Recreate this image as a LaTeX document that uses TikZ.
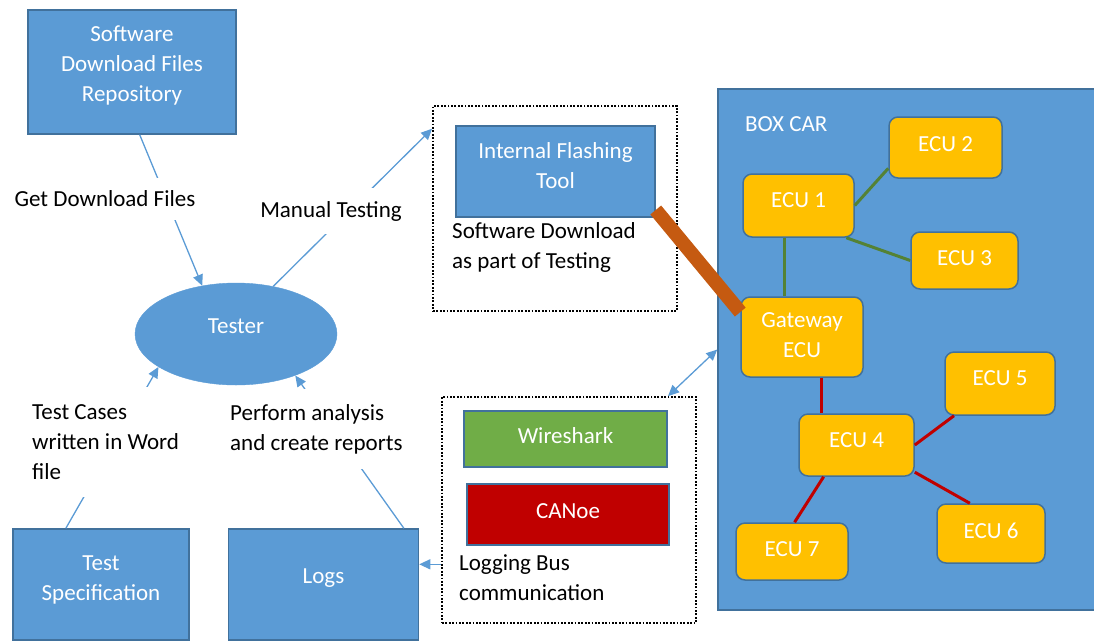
\documentclass[tikz,border=0pt]{standalone}
\usepackage{fontspec}
\setmainfont{Carlito}
\usetikzlibrary{shapes.geometric,arrows.meta}
\definecolor{boxblue}{HTML}{5B9BD5}
\definecolor{edgeblue}{HTML}{41719C}
\definecolor{ecuyellow}{HTML}{FFC000}
\definecolor{busgreen}{HTML}{548235}
\definecolor{busred}{HTML}{C00000}
\definecolor{wiregreen}{HTML}{70AD47}
\definecolor{flashorange}{HTML}{C55A11}
\begin{document}
\begin{tikzpicture}
[x=1pt,y=-1pt,%
  every node/.style={font=\fontsize{23}{30}\selectfont},%
  lift/.style={execute at end node={\rule[-#1]{0pt}{0pt}}},%
  lift/.default=6pt,%
  drop/.style={execute at begin node={\rule{0pt}{#1}}},%
  bluebox/.style={rectangle,fill=boxblue,draw=edgeblue,line width=1.5pt,text=white,align=center,inner sep=0pt,lift},%
  ecubox/.style={rectangle,rounded corners=9pt,fill=ecuyellow,draw=edgeblue,line width=1.5pt,text=white,align=center,inner sep=0pt,lift=4pt},%
  dotbox/.style={rectangle,draw,line width=1.8pt,dash pattern=on 1.8pt off 1.6pt,inner sep=0pt},%
  flow/.style={draw=boxblue,line width=1.3pt,-{Triangle[length=11pt,width=10pt]}},%
  note/.style={fill=white,align=left,inner xsep=0pt},%
  greenbus/.style={draw=busgreen,line width=3pt},%
  redbus/.style={draw=busred,line width=3pt}]
\useasboundingbox (0,0) rectangle (1094,641);
\node[bluebox,minimum width=208pt,minimum height=124pt,lift=16pt] (repo) at (132,72) {Software\\Download Files\\Repository};
\node[ellipse,fill=boxblue,draw=boxblue,text=white,minimum width=202pt,minimum height=102pt,inner sep=0pt,lift=16pt] (tester) at (236,334) {Tester};
\node[bluebox,minimum width=176pt,minimum height=111pt,lift=12pt] (tspec) at (101,584.5) {Test\\Specification};
\node[bluebox,minimum width=190pt,minimum height=111pt,lift=16pt] (logs) at (323.5,584.5) {Logs};
\node[dotbox,minimum width=244pt,minimum height=205pt] (fbox) at (555,208.5) {};
\node[bluebox,minimum width=199pt,minimum height=91pt,lift=12pt] (flash) at (555.5,171.5) {Internal Flashing\\Tool};
\node[anchor=west,align=left,inner sep=0pt] (fnote) at (452,247) {Software Download\\as part of Testing};
\node[dotbox,minimum width=254pt,minimum height=226pt] (lbox) at (569,510) {};
\node[bluebox,fill=wiregreen,minimum width=203pt,minimum height=56pt,lift=2pt] (wire) at (565.5,439) {Wireshark};
\node[bluebox,fill=busred,minimum width=202pt,minimum height=61pt,lift=4pt] (canoe) at (568,514.5) {CANoe};
\node[anchor=west,align=left,inner sep=0pt] (lnote) at (459,577.5) {Logging Bus\\communication};
\node[bluebox,minimum width=378pt,minimum height=521pt] (boxcar) at (907,349.5) {};
\node[anchor=west,text=white,inner sep=0pt] (carlabel) at (745,124) {BOX CAR};
\node[ecubox,minimum width=111pt,minimum height=63pt,lift=10pt] (ecu1) at (798.5,205.5) {ECU 1};
\node[ecubox,minimum width=113pt,minimum height=61pt,lift=7pt] (ecu2) at (945.5,147.5) {ECU 2};
\node[ecubox,minimum width=107pt,minimum height=57pt,lift=3pt] (ecu3) at (964.5,260.5) {ECU 3};
\node[ecubox,minimum width=122pt,minimum height=80pt,lift=0pt,drop=24pt] (gw) at (802,337) {Gateway\\ECU};
\node[ecubox,minimum width=115pt,minimum height=62pt,lift=9pt] (ecu4) at (856.5,445) {ECU 4};
\node[ecubox,minimum width=110pt,minimum height=63pt,lift=11pt] (ecu5) at (1000,383.5) {ECU 5};
\node[ecubox,minimum width=108pt,minimum height=59pt,lift=5pt] (ecu6) at (991,533.5) {ECU 6};
\node[ecubox,minimum width=112pt,minimum height=57pt,lift=2pt] (ecu7) at (792,551.5) {ECU 7};
\draw[flow] (repo.-83) -- (tester.125);
\node[note,inner ysep=13pt] (getlbl) at (105,199) {Get Download Files};
\draw[flow] (tester.52) -- (fbox.147);
\node[note,inner ysep=13pt] (manlbl) at (331,211) {Manual Testing};
\draw[flow] (tspec.122) -- (tester.203);
\node[note,anchor=west,inner ysep=17pt] (caselbl) at (32,442) {Test Cases\\written in Word\\file};
\draw[flow] (logs.35) -- (tester.-35);
\node[note,anchor=west,inner ysep=15pt] (reportlbl) at (230,429) {Perform analysis\\and create reports};
\draw[flow,{Triangle[length=11pt,width=10pt]}-{Triangle[length=11pt,width=10pt]}] (lbox.49) -- (boxcar.west);
\draw[flow] (lbox.203) -- (lbox.203 -| logs.east);
\draw[greenbus] (ecu1.east) -- (ecu2.200);
\draw[greenbus] (ecu1.-34) -- (ecu3.west);
\draw[greenbus] ([xshift=-14pt]ecu1.south) -- ([xshift=-14pt]ecu1.south |- gw.north);
\draw[redbus] ([xshift=19pt]gw.south) -- ([xshift=19pt]gw.south |- ecu4.north);
\draw[redbus] (ecu4.east) -- (ecu5.215);
\draw[redbus] (ecu4.-25) -- (ecu6.125);
\draw[redbus] (ecu4.224) -- (ecu7.85);
\draw[flashorange,line width=14pt] (flash.-21) -- (gw.158);
\end{tikzpicture}
\end{document}
